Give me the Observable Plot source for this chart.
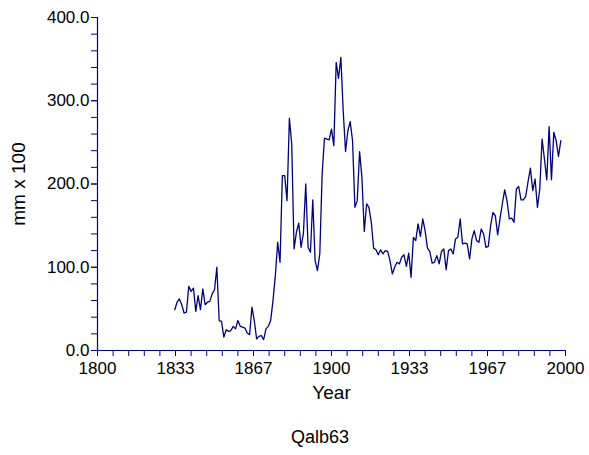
<!DOCTYPE html>
<html>
<head>
<meta charset="utf-8">
<script src="https://cdn.jsdelivr.net/npm/d3@7"></script>
<script src="https://cdn.jsdelivr.net/npm/@observablehq/plot@0.6"></script>
<style>
  body { margin: 0; background: #fff; font-family: "Liberation Sans", Arial, sans-serif; }
  #wrap { position: relative; width: 589px; height: 455px; }
  #caption { position: absolute; top: 426px; left: 0; width: 640px; text-align: center; font-size: 18px; color: #000; line-height: 22px; }
  svg g[aria-label="x-axis label"], svg g[aria-label="y-axis label"] { font-size: 19px; }
</style>
</head>
<body>
<div id="wrap">
  <div id="chart"></div>
  <div id="caption">Qalb63</div>
</div>
<script>
const firstYear = 1833;
const values = [
  49, 58, 62, 55, 45, 46, 77,
  71, 75, 47, 66, 49, 74, 55, 58, 59, 68,
  73, 100, 36, 35, 16, 25, 23, 24, 29, 26,
  36, 29, 28, 27, 21, 19, 52, 36, 14, 17,
  18, 13, 26, 29, 36, 60, 90, 130, 106, 210,
  210, 180, 279, 248, 122, 142, 153, 124, 141, 200,
  124, 118, 181, 108, 96, 116, 212, 255, 254, 253,
  266, 246, 346, 327, 352, 288, 239, 264, 275, 252,
  172, 180, 239, 208, 143, 176, 172, 154, 123, 121,
  115, 121, 116, 120, 119, 108, 92, 100, 106, 104,
  112, 115, 101, 117, 88, 136, 132, 152, 137, 158,
  144, 123, 119, 105, 106, 114, 104, 119, 122, 97,
  120, 122, 116, 134, 136, 158, 128, 129, 128, 110,
  134, 144, 132, 130, 146, 140, 124, 125, 150, 166,
  162, 139, 158, 176, 193, 180, 158, 159, 154, 194,
  197, 181, 181, 185, 203, 219, 192, 206, 172, 194,
  254, 230, 205, 269, 205, 262, 252, 233, 252
];
const years = values.map((_, i) => firstYear + i);
const xMajorTicks = [1800, 1800 + 100 / 3, 1800 + 200 / 3, 1900, 1900 + 100 / 3, 1900 + 200 / 3, 2000];
const xMinorTicks = d3.range(0, 31).map(i => 1800 + i * 20 / 3);
const yMajorTicks = [0, 100, 200, 300, 400];
const yMinorTicks = d3.range(0, 401, 20);

const data = years.map((y, i) => ({year: y, value: values[i]}));
const navy = "#000080";

const chart = Plot.plot({
  width: 589,
  height: 418,
  marginLeft: 97,
  marginRight: 24,
  marginTop: 17,
  marginBottom: 68,
  style: { fontFamily: "'Liberation Sans', Arial, sans-serif", fontSize: "17px", color: "#000", background: "#fff" },
  x: { domain: [1800, 2000] },
  y: { domain: [0, 400] },
  marks: [
    Plot.axisX(xMinorTicks, { tickSize: 6, tickFormat: () => "", stroke: navy, label: null }),
    Plot.axisX(xMajorTicks, { tickSize: 6, tickPadding: 5, tickFormat: d => String(Math.round(d)), stroke: navy, fill: "#000",
      label: "Year", labelAnchor: "center", labelArrow: "none", labelOffset: 48 }),
    Plot.axisY(yMinorTicks, { tickSize: 6, tickFormat: () => "", stroke: navy, label: null }),
    Plot.axisY(yMajorTicks, { tickSize: 6, tickPadding: 2, tickFormat: d => d.toFixed(1), stroke: navy, fill: "#000",
      label: "mm x 100", labelAnchor: "center", labelArrow: "none", labelOffset: 86 }),
    Plot.ruleX([1800], { stroke: navy, strokeWidth: 1.2 }),
    Plot.ruleY([0], { stroke: navy, strokeWidth: 1.2 }),
    Plot.lineY(data, { x: "year", y: "value", stroke: navy, strokeWidth: 1.3 })
  ]
});
document.getElementById("chart").appendChild(chart);
</script>
</body>
</html>
